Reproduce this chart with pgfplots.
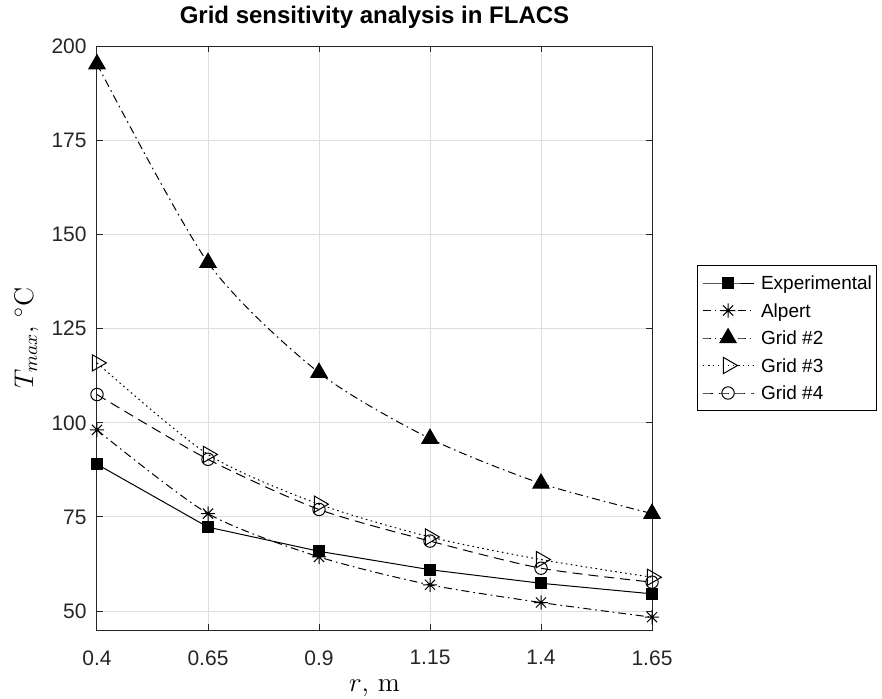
\documentclass[border=0pt]{standalone}
\usepackage{fix-cm}
\usepackage{fontspec}
\newfontfamily\arial{Liberation Sans}
\usepackage{pgfplots}
\pgfplotsset{compat=1.18}

\definecolor{axgray}{rgb}{0.15,0.15,0.15}
\definecolor{gridgray}{rgb}{0.87,0.87,0.87}

\pgfdeclareplotmark{ast8}{%
  \pgfpathmoveto{\pgfqpoint{-\pgfplotmarksize}{0pt}}%
  \pgfpathlineto{\pgfqpoint{\pgfplotmarksize}{0pt}}%
  \pgfpathmoveto{\pgfqpoint{0pt}{-\pgfplotmarksize}}%
  \pgfpathlineto{\pgfqpoint{0pt}{\pgfplotmarksize}}%
  \pgfpathmoveto{\pgfqpoint{-0.707\pgfplotmarksize}{-0.707\pgfplotmarksize}}%
  \pgfpathlineto{\pgfqpoint{0.707\pgfplotmarksize}{0.707\pgfplotmarksize}}%
  \pgfpathmoveto{\pgfqpoint{-0.707\pgfplotmarksize}{0.707\pgfplotmarksize}}%
  \pgfpathlineto{\pgfqpoint{0.707\pgfplotmarksize}{-0.707\pgfplotmarksize}}%
  \pgfusepathqstroke}

\begin{document}
\begin{tikzpicture}
\path[use as bounding box] (0,0) rectangle (441pt,349pt);
\begin{axis}[
  at={(48.5pt,34pt)}, anchor=south west,
  width=277.5pt, height=292pt, scale only axis,
  xmin=0.4, xmax=1.65, ymin=45, ymax=200,
  xtick={0.4,0.65,0.9,1.15,1.4,1.65},
  xticklabels={0.4,0.65,0.9,1.15,1.4,1.65},
  ytick={50,75,100,125,150,175,200},
  grid=major,
  major grid style={gridgray, line width=0.5pt},
  axis line style={axgray, line width=0.5pt},
  tick align=inside, major tick length=2.9pt,
  tick style={axgray, line width=0.5pt},
  ticklabel style={font=\arial\fontsize{10.5}{12}\selectfont, text=axgray, /pgf/number format/assume math mode=true},
  xticklabel style={anchor=north, inner sep=0pt, yshift=-10pt},
  yticklabel style={anchor=east, inner sep=0pt, xshift=-5pt},
  title={Grid sensitivity analysis in FLACS},
  title style={at={(axis description cs:0.5,1.0188)}, anchor=base, inner sep=0pt, font=\arial\bfseries\fontsize{12}{14}\selectfont},
  xlabel={$r$, m},
  xlabel style={at={(axis description cs:0.5,-0.1045)}, anchor=base, inner sep=0pt, font=\fontsize{13.5}{16}\selectfont},
  ylabel={$T_{max}$, $^{\circ}$C},
  ylabel style={at={(axis description cs:-0.1153,0.5)}, anchor=base, inner sep=0pt, font=\fontsize{13.5}{16}\selectfont},
  legend style={at={(1.081,0.5)}, anchor=west, draw=black, line width=0.5pt, fill=white,
    font=\arial\fontsize{9.5}{11}\selectfont, inner xsep=2.3pt, inner ysep=3.75pt,
    row sep=3.75pt, column sep=3.5pt,
    nodes={inner sep=0pt, text height=6.6pt, text depth=0pt, anchor=west}},
  legend cell align=left,
  legend image code/.code={%
    \path[draw=none, fill=none] (0pt,-5pt) rectangle (25.5pt,5pt);
    \draw[mark repeat=2,mark phase=2] plot coordinates {(0pt,0pt) (12.75pt,0pt) (25.5pt,0pt)};},
  every axis plot/.append style={line width=0.5pt, black},
]
\addplot[solid, mark=square*, mark size=2.7pt, mark options={solid}]
  coordinates {(0.4,89.0) (0.65,72.3) (0.9,65.9) (1.15,61.0) (1.4,57.4) (1.65,54.6)};
\addlegendentry{Experimental}
\addplot[smooth, tension=0.45, dash pattern=on 4pt off 2pt on 0.8pt off 2pt, mark=ast8, mark size=3.6pt, mark options={solid}]
  coordinates {(0.4,98.1) (0.65,75.9) (0.9,64.4) (1.15,57.0) (1.4,52.3) (1.65,48.4)};
\addlegendentry{Alpert}
\addplot[smooth, tension=0.45, dash pattern=on 4pt off 2pt on 0.8pt off 2pt, mark=triangle*, mark size=4.7pt, mark options={solid}]
  coordinates {(0.4,195.2) (0.65,142.5) (0.9,113.3) (1.15,95.8) (1.4,83.9) (1.65,75.9)};
\addlegendentry{Grid \#2}
\addplot[smooth, tension=0.45, dash pattern=on 0.8pt off 1.7pt, mark=triangle, mark size=4.7pt, mark options={solid, rotate=-90}]
  coordinates {(0.4,115.9) (0.65,91.6) (0.9,78.4) (1.15,69.7) (1.4,63.7) (1.65,59.0)};
\addlegendentry{Grid \#3}
\addplot[smooth, tension=0.45, dash pattern=on 5pt off 3pt, mark=o, mark size=3.1pt, mark options={solid}]
  coordinates {(0.4,107.5) (0.65,90.3) (0.9,77.0) (1.15,68.6) (1.4,61.4) (1.65,57.7)};
\addlegendentry{Grid \#4}
\end{axis}
\end{tikzpicture}
\end{document}
